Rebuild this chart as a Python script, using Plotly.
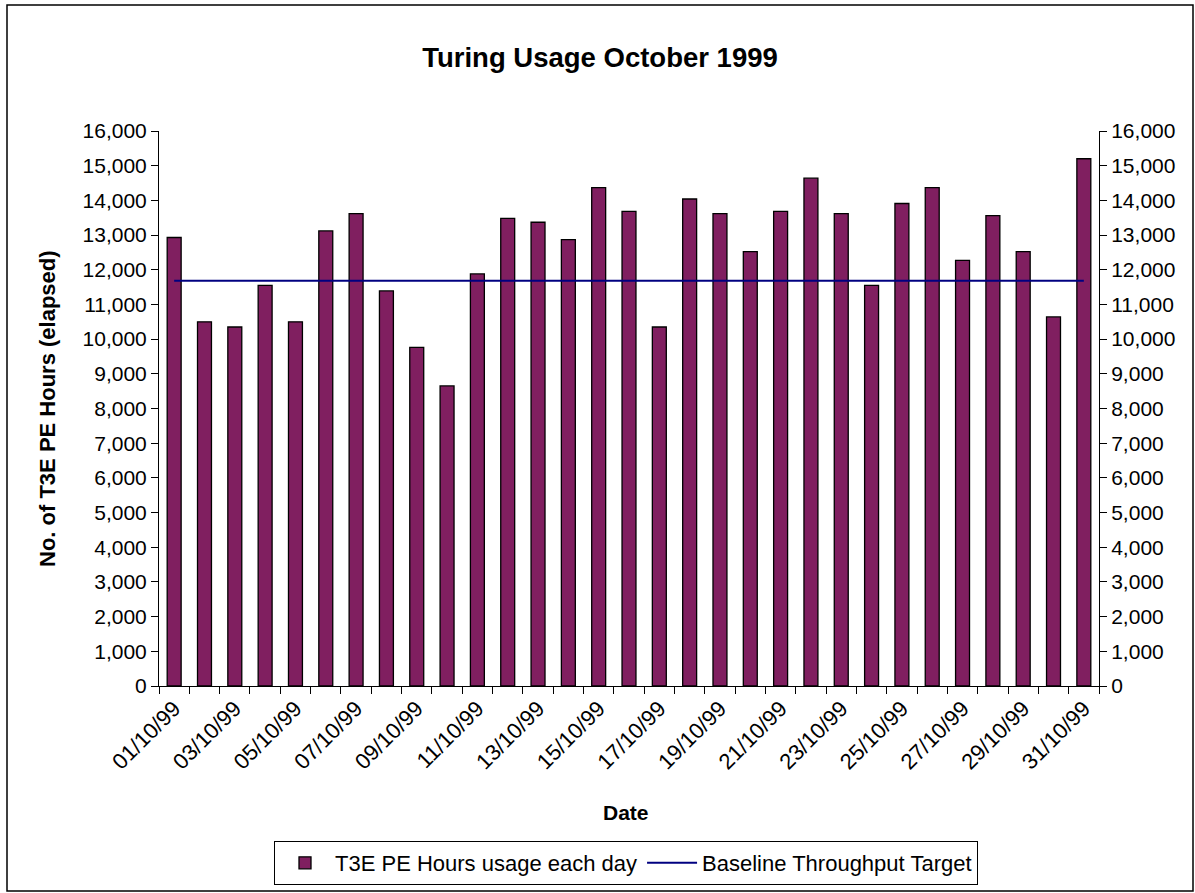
import plotly.graph_objects as go

dates = [f"{d:02d}/10/99" for d in range(1, 32)]

# T3E PE hours used each day
usage = [
    12930, 10500, 10350, 11550, 10500, 13120, 13620, 11390, 9760, 8650,
    11880, 13480, 13370, 12870, 14370, 13680, 10350, 14040, 13620, 12520,
    13680, 14640, 13620, 11550, 13910, 14370, 12270, 13560, 12520, 10640,
    15200,
]
baseline_target = 11680

y_range = [0, 16000]

# page coords of the plot area (body margin is removed below)
W, H = 1195, 893
L, R, T, B = 159, 1099, 131, 686
pw, ph = R - L, B - T


def px(x):
    return (x - L) / pw


def py(y):
    return (B - y) / ph


FONT = "Liberation Sans, Arial, sans-serif"

fig = go.Figure()
fig.add_trace(
    go.Bar(
        x=dates,
        y=usage,
        name="T3E PE Hours usage each day",
        marker=dict(color="#801F60", line=dict(color="black", width=1.3)),
        width=0.46,
    )
)
fig.add_trace(
    go.Scatter(
        x=dates,
        y=[baseline_target] * len(dates),
        name="Baseline Throughput Target",
        mode="lines",
        line=dict(color="#000080", width=2),
        yaxis="y2",
    )
)

ticktext = [lab if i % 2 == 0 else "" for i, lab in enumerate(dates)]

axis_common = dict(
    ticks="outside",
    ticklen=7,
    tickcolor="black",
    showline=True,
    linecolor="black",
    showgrid=False,
)

fig.update_layout(
    width=W,
    height=H,
    margin=dict(l=L, r=W - R, t=T, b=H - B, pad=0, autoexpand=False),
    plot_bgcolor="white",
    paper_bgcolor="white",
    font=dict(family=FONT, size=21, color="black"),
    title=dict(
        text="<b>Turing Usage October 1999</b>",
        x=600 / W,
        xanchor="center",
        y=1 - 57 / H,
        yanchor="middle",
        font=dict(size=27.5),
    ),
    xaxis=dict(
        type="category",
        tickmode="array",
        tickvals=dates,
        ticktext=ticktext,
        tickson="boundaries",
        tickangle=-45,
        tickfont=dict(size=22),
        **axis_common,
    ),
    yaxis=dict(
        range=y_range,
        dtick=1000,
        tickformat=",d",
        zeroline=False,
        tickfont=dict(size=21),
        **axis_common,
    ),
    yaxis2=dict(
        range=y_range,
        dtick=1000,
        tickformat=",d",
        overlaying="y",
        side="right",
        zeroline=False,
        tickfont=dict(size=21),
        **axis_common,
    ),
    legend=dict(
        orientation="h",
        x=px(626),
        xanchor="center",
        y=py(885),
        yanchor="bottom",
        bordercolor="black",
        borderwidth=1,
        font=dict(size=22),
        itemwidth=50,
        traceorder="normal",
    ),
    annotations=[
        dict(
            text="<b>No. of T3E PE Hours (elapsed)</b>",
            textangle=-90,
            x=px(47),
            y=py(409),
            xref="paper",
            yref="paper",
            xanchor="center",
            yanchor="middle",
            showarrow=False,
            font=dict(size=22),
        ),
        dict(
            text="<b>Date</b>",
            x=px(626),
            y=py(813),
            xref="paper",
            yref="paper",
            xanchor="center",
            yanchor="middle",
            showarrow=False,
            font=dict(size=21),
        ),
    ],
    shapes=[
        dict(
            type="rect",
            xref="paper",
            yref="paper",
            x0=px(7),
            x1=px(1193),
            y0=py(891),
            y1=py(5),
            line=dict(color="black", width=1.5),
            fillcolor="rgba(0,0,0,0)",
            layer="below",
        )
    ],
)

fig.write_html(
    "out.html",
    config={"displayModeBar": False},
    post_script="document.body.style.margin='0';document.body.style.overflow='hidden';",
)
